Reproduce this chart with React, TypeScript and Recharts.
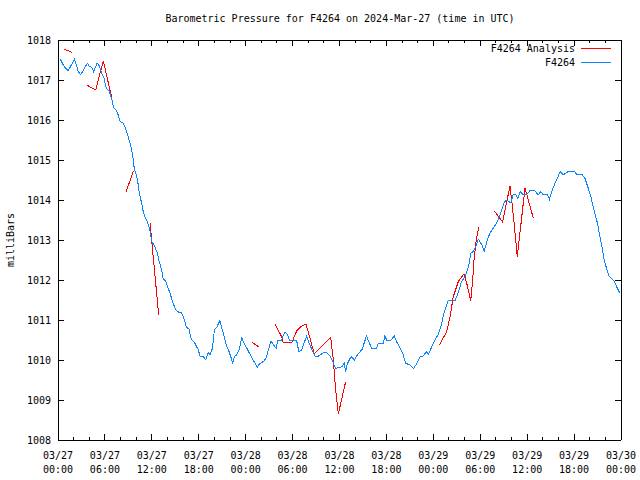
import { LineChart, Line, XAxis, YAxis } from "recharts";

// hours since 03/27 00:00 UTC, pressure in mbar
const STATION: [number, number][] = [
  [0.3, 1017.52], [0.8, 1017.33], [1.3, 1017.23], [2.1, 1017.52], [2.6, 1017.21],
  [2.9, 1017.13], [3.75, 1017.42], [4.05, 1017.33], [4.3, 1017.32], [4.55, 1017.21],
  [5.0, 1017.42], [5.3, 1017.35], [5.6, 1017.17], [5.9, 1017.04], [6.1, 1016.83],
  [6.3, 1016.77], [6.55, 1016.73], [6.75, 1016.6], [6.95, 1016.46], [7.1, 1016.31],
  [7.4, 1016.25], [7.7, 1016.13], [7.95, 1015.96], [8.35, 1015.92], [8.65, 1015.79],
  [8.9, 1015.63], [9.15, 1015.46], [9.4, 1015.29], [9.6, 1015.04], [9.75, 1014.79],
  [9.95, 1014.67], [10.2, 1014.46], [10.4, 1014.17], [10.65, 1013.96], [10.9, 1013.71],
  [11.1, 1013.58], [11.4, 1013.46], [11.7, 1013.29], [12.0, 1012.96], [12.4, 1012.83],
  [12.7, 1012.67], [12.95, 1012.46], [13.25, 1012.25], [13.45, 1012.02], [13.75, 1011.98],
  [14.0, 1011.83], [14.3, 1011.69], [14.7, 1011.42], [15.1, 1011.25], [15.4, 1011.2],
  [15.8, 1011.18], [16.05, 1011.08], [16.4, 1010.83], [16.75, 1010.77], [17.05, 1010.52],
  [17.5, 1010.42], [17.95, 1010.25], [18.15, 1010.1], [18.6, 1010.08], [18.9, 1010.0],
  [19.2, 1010.18], [19.45, 1010.13], [19.75, 1010.29], [20.0, 1010.75], [20.3, 1010.82],
  [20.7, 1010.98], [20.95, 1010.79], [21.15, 1010.67], [21.5, 1010.38], [21.8, 1010.25],
  [22.1, 1010.08], [22.35, 1009.92], [22.55, 1010.08], [22.85, 1010.13], [23.2, 1010.27],
  [23.5, 1010.58], [23.7, 1010.46], [24.05, 1010.33], [24.45, 1010.18], [24.95, 1010.0],
  [25.5, 1009.82], [25.75, 1009.9], [26.25, 1009.96], [26.6, 1010.04], [26.9, 1010.25],
  [27.25, 1010.48], [27.55, 1010.38], [27.9, 1010.29], [28.1, 1010.5], [28.6, 1010.5],
  [28.95, 1010.68], [29.25, 1010.67], [29.6, 1010.5], [29.95, 1010.5], [30.5, 1010.5],
  [30.8, 1010.21], [31.15, 1010.25], [31.8, 1010.6], [32.1, 1010.43], [32.45, 1010.27],
  [32.85, 1010.1], [33.3, 1010.1], [33.95, 1010.18], [34.35, 1010.18], [34.8, 1010.1],
  [35.2, 1009.93], [35.5, 1009.79], [35.95, 1009.82], [36.35, 1009.83], [36.6, 1009.92],
  [36.8, 1009.71], [36.95, 1009.88], [37.35, 1010.04], [37.55, 1010.08], [37.9, 1010.0],
  [38.3, 1010.13], [38.9, 1010.27], [39.15, 1010.42], [39.45, 1010.6], [39.75, 1010.46],
  [40.1, 1010.29], [40.75, 1010.29], [40.95, 1010.42], [41.6, 1010.42], [41.8, 1010.6],
  [42.05, 1010.5], [42.6, 1010.5], [43.0, 1010.6], [43.3, 1010.46], [43.75, 1010.29],
  [44.15, 1010.13], [44.45, 1009.92], [44.95, 1009.88], [45.5, 1009.79], [45.9, 1009.92],
  [46.3, 1010.08], [46.7, 1010.1], [47.15, 1010.21], [47.35, 1010.13], [47.8, 1010.33],
  [48.2, 1010.5], [48.65, 1010.65], [49.05, 1010.88], [49.3, 1011.13], [49.9, 1011.48],
  [50.8, 1011.49], [51.2, 1011.69], [51.6, 1011.96], [52.05, 1012.08], [52.5, 1012.33],
  [52.8, 1012.67], [53.1, 1012.71], [53.45, 1012.85], [53.75, 1013.02], [54.2, 1012.88],
  [54.5, 1012.71], [54.9, 1013.0], [55.25, 1013.18], [55.75, 1013.32], [56.2, 1013.46],
  [56.6, 1013.67], [57.05, 1013.94], [57.4, 1014.0], [57.9, 1013.93], [58.2, 1014.13],
  [58.55, 1014.13], [58.8, 1014.03], [59.1, 1014.21], [59.5, 1014.13], [59.9, 1014.13],
  [60.35, 1014.23], [61.0, 1014.23], [61.4, 1014.13], [61.75, 1014.21], [62.05, 1014.13],
  [62.6, 1014.13], [62.85, 1014.02], [63.15, 1014.21], [63.55, 1014.42], [64.0, 1014.6],
  [64.2, 1014.71], [64.6, 1014.63], [65.25, 1014.71], [66.1, 1014.71], [66.35, 1014.63],
  [67.05, 1014.63], [67.4, 1014.54], [67.75, 1014.33], [68.15, 1014.08], [68.45, 1013.83],
  [68.75, 1013.58], [69.0, 1013.42], [69.3, 1013.08], [69.6, 1012.79], [69.85, 1012.5],
  [70.15, 1012.29], [70.45, 1012.1], [70.8, 1012.04], [71.15, 1011.96], [71.45, 1011.83],
  [71.85, 1011.67],
];

// analysis runs, each one a short separate segment
const ANALYSIS: [number, number][][] = [
  [[0.77, 1017.77], [1.83, 1017.69]],
  [[3.71, 1016.87], [4.82, 1016.75], [5.79, 1017.48], [6.87, 1016.56]],
  [[8.7, 1014.2], [9.63, 1014.72]],
  [[11.77, 1013.42], [12.88, 1011.12]],
  [[24.85, 1010.44], [25.74, 1010.32]],
  [
    [27.75, 1010.9], [28.61, 1010.58], [28.81, 1010.43], [29.89, 1010.43], [30.53, 1010.73],
    [31.17, 1010.85], [31.72, 1010.9], [32.78, 1010.15], [34.87, 1010.57], [35.21, 1010.0],
    [35.51, 1009.25], [35.85, 1008.65], [36.79, 1009.46],
  ],
  [
    [48.76, 1010.37], [49.71, 1010.71], [50.13, 1011.08], [50.55, 1011.58], [51.19, 1011.96],
    [51.92, 1012.15], [52.27, 1011.92], [52.78, 1011.48], [53.03, 1012.0], [53.2, 1012.5],
    [53.46, 1012.96], [53.8, 1013.32],
  ],
  [
    [55.8, 1013.73], [56.85, 1013.45], [57.8, 1014.35], [58.02, 1014.0], [58.35, 1013.38],
    [58.74, 1012.58], [59.72, 1014.3], [60.78, 1013.55],
  ],
];

const HOUR_TICKS = Array.from({ length: 37 }, (_, i) => i * 2);
const DATE_LABELS = ["03/27", "03/27", "03/27", "03/27", "03/28", "03/28", "03/28", "03/28", "03/29", "03/29", "03/29", "03/29", "03/30"];
const TIME_LABELS = ["00:00", "06:00", "12:00", "18:00", "00:00", "06:00", "12:00", "18:00", "00:00", "06:00", "12:00", "18:00", "00:00"];
const MBAR_TICKS = [1008, 1009, 1010, 1011, 1012, 1013, 1014, 1015, 1016, 1017, 1018];

const FONT = "'DejaVu Sans Mono', monospace";
const RED = "#ff0000";
const BLUE = "#0a84ff";

const stationData = STATION.map(([h, v]) => ({ h, v }));
const analysisData: { h: number; v: number | null }[] = [];
ANALYSIS.forEach((seg, i) => {
  if (i > 0) analysisData.push({ h: (ANALYSIS[i - 1][ANALYSIS[i - 1].length - 1][0] + seg[0][0]) / 2, v: null });
  seg.forEach(([h, v]) => analysisData.push({ h, v }));
});

const BottomTick = ({ x, y, payload }: any) => {
  const major = payload.value % 6 === 0;
  const idx = payload.value / 6;
  return (
    <g>
      <line x1={x} y1={y} x2={x} y2={y - (major ? 6 : 3)} stroke="#000" shapeRendering="crispEdges" />
      {major && (
        <>
          <text x={x} y={y + 19} textAnchor="middle" fontSize={10} fontFamily={FONT} fill="#000">
            {DATE_LABELS[idx]}
          </text>
          <text x={x} y={y + 33} textAnchor="middle" fontSize={10} fontFamily={FONT} fill="#000">
            {TIME_LABELS[idx]}
          </text>
        </>
      )}
    </g>
  );
};

const TopTick = ({ x, y, payload }: any) => {
  const major = payload.value % 6 === 0;
  return <line x1={x} y1={y} x2={x} y2={y + (major ? 6 : 3)} stroke="#000" shapeRendering="crispEdges" />;
};

const LeftTick = ({ x, y, payload }: any) => (
  <g>
    <line x1={x} y1={y} x2={x + 6} y2={y} stroke="#000" shapeRendering="crispEdges" />
    <text x={x - 7} y={y + 4} textAnchor="end" fontSize={10} fontFamily={FONT} fill="#000">
      {payload.value}
    </text>
  </g>
);

const RightTick = ({ x, y }: any) => (
  <line x1={x} y1={y} x2={x - 6} y2={y} stroke="#000" shapeRendering="crispEdges" />
);

const axisLine = { stroke: "#000", shapeRendering: "crispEdges" } as any;

export default function App() {
  return (
    <div style={{ position: "absolute", left: 0, top: 0, width: 640, height: 480, background: "#fff", fontFamily: FONT, color: "#000" }}>
      <LineChart width={640} height={480} margin={{ top: 0, right: 0, bottom: 0, left: 0 }}>
        <XAxis xAxisId="b" type="number" dataKey="h" domain={[0, 72]} ticks={HOUR_TICKS} interval={0}
          allowDataOverflow height={40} tickSize={0} tickMargin={0} tick={BottomTick} axisLine={axisLine} />
        <XAxis xAxisId="t" orientation="top" type="number" dataKey="h" domain={[0, 72]} ticks={HOUR_TICKS} interval={0}
          allowDataOverflow height={40} tickSize={0} tickMargin={0} tick={TopTick} axisLine={axisLine} />
        <YAxis yAxisId="l" type="number" domain={[1008, 1018]} ticks={MBAR_TICKS} interval={0}
          allowDataOverflow width={58} tickSize={0} tickMargin={0} tick={LeftTick} axisLine={axisLine} />
        <YAxis yAxisId="r" orientation="right" type="number" domain={[1008, 1018]} ticks={MBAR_TICKS} interval={0}
          allowDataOverflow width={19} tickSize={0} tickMargin={0} tick={RightTick} axisLine={axisLine} />
        <Line xAxisId="b" yAxisId="l" data={analysisData} dataKey="v" name="F4264 Analysis" stroke={RED}
          strokeWidth={1} dot={false} activeDot={false} isAnimationActive={false} type="linear" connectNulls={false}
          shapeRendering="crispEdges" />
        <Line xAxisId="b" yAxisId="l" data={stationData} dataKey="v" name="F4264" stroke={BLUE}
          strokeWidth={1} dot={false} activeDot={false} isAnimationActive={false} type="linear"
          shapeRendering="crispEdges" />
      </LineChart>

      <div style={{ position: "absolute", left: 140, top: 12, width: 400, textAlign: "center", fontSize: 10, lineHeight: "14px" }}>
        Barometric Pressure for F4264 on 2024-Mar-27 (time in UTC)
      </div>
      <div style={{ position: "absolute", left: 10, top: 240, transform: "translate(-50%, -50%) rotate(-90deg)", fontSize: 10, whiteSpace: "nowrap" }}>
        milliBars
      </div>

      <div style={{ position: "absolute", right: 65, top: 42, fontSize: 10, lineHeight: "14px", whiteSpace: "nowrap" }}>F4264 Analysis</div>
      <div style={{ position: "absolute", left: 581, top: 48, width: 30, height: 1, background: RED }} />
      <div style={{ position: "absolute", right: 65, top: 56, fontSize: 10, lineHeight: "14px", whiteSpace: "nowrap" }}>F4264</div>
      <div style={{ position: "absolute", left: 581, top: 62, width: 30, height: 1, background: BLUE }} />
    </div>
  );
}
